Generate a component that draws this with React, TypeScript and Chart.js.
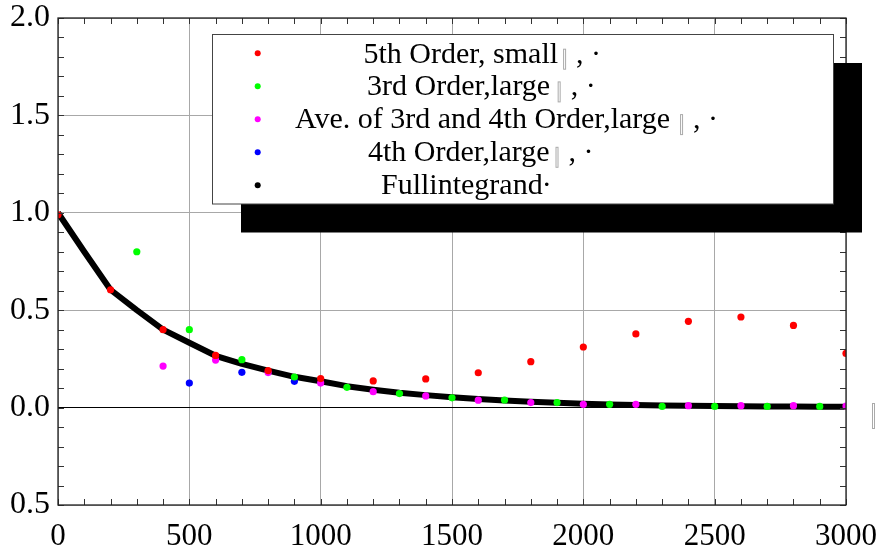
import React, { useEffect, useRef } from "react";
import { Chart, registerables } from "chart.js";

Chart.register(...registerables);

const FONT = '"Liberation Serif", "Times New Roman", Times, serif';

// Full integrand (black line)
const fullX = [0, 100, 200, 300, 400, 500, 600, 700, 800, 900, 1000, 1100, 1200, 1300, 1400, 1500, 1600, 1700, 1800, 1900, 2000, 2100, 2200, 2300, 2400, 2500, 2600, 2700, 2800, 2900, 3000];
const fullY = [1.0, 0.8, 0.605, 0.5, 0.4, 0.333, 0.266, 0.224, 0.19, 0.158, 0.135, 0.11, 0.092, 0.076, 0.064, 0.053, 0.044, 0.037, 0.03, 0.025, 0.02, 0.016, 0.013, 0.011, 0.009, 0.008, 0.007, 0.006, 0.006, 0.005, 0.005];

// 5th Order, small (red)
const fifthX = [0, 200, 400, 600, 800, 1000, 1200, 1400, 1600, 1800, 2000, 2200, 2400, 2600, 2800, 3000];
const fifthY = [0.99, 0.605, 0.4, 0.268, 0.19, 0.149, 0.137, 0.147, 0.179, 0.236, 0.311, 0.378, 0.443, 0.465, 0.422, 0.278];

// 3rd Order, large (green)
const thirdX = [300, 500, 700, 900, 1100, 1300, 1500, 1700, 1900, 2100, 2300, 2500, 2700, 2900];
const thirdY = [0.8, 0.4, 0.246, 0.157, 0.104, 0.072, 0.05, 0.039, 0.026, 0.017, 0.006, 0.006, 0.006, 0.006];

// Ave. of 3rd and 4th Order, large (magenta)
const aveX = [400, 600, 800, 1000, 1200, 1400, 1600, 1800, 2000, 2200, 2400, 2600, 2800, 3000];
const aveY = [0.213, 0.244, 0.18, 0.126, 0.082, 0.06, 0.038, 0.026, 0.017, 0.017, 0.01, 0.01, 0.01, 0.008];

// 4th Order, large (blue)
const fourthX = [500, 700, 900];
const fourthY = [0.126, 0.181, 0.135];

const legendLabels = [
  "5th Order, small",
  "3rd Order,large",
  "Ave. of 3rd and 4th Order,large",
  "4th Order,large",
  "Fullintegrand",
];
const legendTails = [", \u00b7", ", \u00b7", ", \u00b7", ", \u00b7", ""];
const legendColors = ["#ff0000", "#00ff00", "#ff00ff", "#0000ff", "#000000"];

const xMin = 0;
const xMax = 3000;
const xStep = 500;
const yMin = -0.5;
const yMax = 2.0;
const yStep = 0.5;

function pts(xs: number[], ys: number[]) {
  return xs.map((x, i) => ({ x, y: ys[i] }));
}

const framePlugin = {
  id: "frameAndLegend",
  afterDraw(chart: any) {
    const ctx = chart.ctx as CanvasRenderingContext2D;
    const { left, right, top, bottom } = chart.chartArea;
    const xs = chart.scales.x;
    const ys = chart.scales.y;
    ctx.save();
    // minor ticks
    ctx.strokeStyle = "#333";
    ctx.lineWidth = 1;
    ctx.beginPath();
    for (let v = xMin; v <= xMax; v += 100) {
      const px = Math.round(xs.getPixelForValue(v)) + 0.5;
      ctx.moveTo(px, bottom);
      ctx.lineTo(px, bottom - 6);
      ctx.moveTo(px, top);
      ctx.lineTo(px, top + 6);
    }
    for (let i = 0; i <= 25; i++) {
      const v = yMin + i * 0.1;
      const py = Math.round(ys.getPixelForValue(v)) + 0.5;
      ctx.moveTo(left, py);
      ctx.lineTo(left + 6, py);
      ctx.moveTo(right, py);
      ctx.lineTo(right - 6, py);
    }
    ctx.stroke();
    // frame
    ctx.strokeStyle = "#222";
    ctx.lineWidth = 1.3;
    ctx.strokeRect(left, top, right - left, bottom - top);

    // legend shadow and box
    const bx = 212.5, by = 34.5, bw = 621, bh = 169.5;
    ctx.fillStyle = "#000";
    ctx.fillRect(bx + 28.5, by + 28.5, bw, bh);
    ctx.fillStyle = "#fff";
    ctx.fillRect(bx, by, bw, bh);
    ctx.strokeStyle = "#444";
    ctx.lineWidth = 1;
    ctx.strokeRect(bx, by, bw, bh);

    const starts = [363.5, 367, 295, 368, 381];
    const gaps = [5, 7.5, 10, 6, 2];
    ctx.font = `30px ${FONT}`;
    ctx.textBaseline = "alphabetic";
    ctx.textAlign = "left";
    for (let i = 0; i < legendLabels.length; i++) {
      const my = 53.3 + i * 33;
      ctx.fillStyle = legendColors[i];
      ctx.beginPath();
      ctx.arc(257.7, my, 3, 0, Math.PI * 2);
      ctx.fill();
      const base = 62.7 + i * 32.7;
      ctx.fillStyle = "#000";
      ctx.fillText(legendLabels[i], starts[i], base);
      const w = ctx.measureText(legendLabels[i]).width;
      const tx = starts[i] + w + gaps[i];
      if (legendTails[i]) {
        ctx.strokeStyle = "#aaa";
        ctx.lineWidth = 1;
        ctx.strokeRect(tx + 0.5, base - 13.5, 2, 20);
        ctx.fillStyle = "#000";
        ctx.fillText(legendTails[i], tx + 13, base);
      } else {
        ctx.fillStyle = "#000";
        ctx.fillText("\u00b7", starts[i] + w - 1, base);
      }
    }
    // stray glyph on the right
    ctx.strokeStyle = "#aaa";
    ctx.lineWidth = 1;
    ctx.strokeRect(872.5, 403.5, 2, 25);
    ctx.restore();
  },
};

function noPad(s: any) {
  s.paddingTop = 0;
  s.paddingBottom = 0;
  s.paddingLeft = 0;
  s.paddingRight = 0;
}

export default function App() {
  const ref = useRef<HTMLCanvasElement | null>(null);
  useEffect(() => {
    if (!ref.current) return;
    const dot = (color: string) => ({
      showLine: false,
      pointRadius: 3.6,
      pointBorderWidth: 0,
      pointBackgroundColor: color,
      backgroundColor: color,
      borderColor: color,
    });
    const chart = new Chart(ref.current, {
      type: "scatter",
      data: {
        datasets: [
          { label: legendLabels[0], data: pts(fifthX, fifthY), order: 0, ...dot("#ff0000") },
          { label: legendLabels[1], data: pts(thirdX, thirdY), order: 1, ...dot("#00ff00") },
          { label: legendLabels[2], data: pts(aveX, aveY), order: 2, ...dot("#ff00ff") },
          { label: legendLabels[3], data: pts(fourthX, fourthY), order: 3, ...dot("#0000ff") },
          {
            label: legendLabels[4],
            data: pts(fullX, fullY),
            order: 4,
            showLine: true,
            borderColor: "#000",
            backgroundColor: "#000",
            borderWidth: 6,
            pointRadius: 0,
            tension: 0,
            borderJoinStyle: "round",
          } as any,
        ],
      },
      options: {
        responsive: false,
        animation: false,
        devicePixelRatio: 1,
        layout: { padding: { top: 18, right: 37, left: 0, bottom: 0 } },
        plugins: { legend: { display: false }, tooltip: { enabled: false } },
        scales: {
          x: {
            type: "linear",
            min: xMin,
            max: xMax,
            afterFit: (s: any) => {
              s.height = 48;
              noPad(s);
            },
            afterBuildTicks: (s: any) => {
              const t = [];
              for (let v = xMin; v <= xMax; v += xStep) t.push({ value: v });
              s.ticks = t;
            },
            ticks: {
              font: { family: FONT, size: 31 },
              color: "#000",
              padding: 13,
              maxRotation: 0,
              autoSkip: false,
              callback: (v: any) => String(v),
            },
            grid: { color: "#a8a8a8", lineWidth: 1, drawTicks: false },
            border: { display: false },
          },
          y: {
            type: "linear",
            min: yMin,
            max: yMax,
            afterFit: (s: any) => {
              s.width = 58;
              noPad(s);
            },
            afterBuildTicks: (s: any) => {
              const t = [];
              for (let i = 0; i <= 5; i++) t.push({ value: yMin + i * yStep });
              s.ticks = t;
            },
            ticks: {
              font: { family: FONT, size: 32 },
              color: "#000",
              padding: 8,
              autoSkip: false,
              callback: (v: any) => Math.abs(Number(v)).toFixed(1),
            },
            grid: {
              color: (c: any) => (c.tick && Math.abs(c.tick.value) < 1e-9 ? "#000" : "#a8a8a8"),
              lineWidth: 1,
              drawTicks: false,
            },
            border: { display: false },
          },
        },
      },
      plugins: [framePlugin],
    });
    return () => chart.destroy();
  }, []);
  return (
    <div style={{ position: "fixed", left: 0, top: 0, width: 883, height: 553, background: "#fff" }}>
      <canvas ref={ref} width={883} height={553} style={{ display: "block" }} />
    </div>
  );
}
